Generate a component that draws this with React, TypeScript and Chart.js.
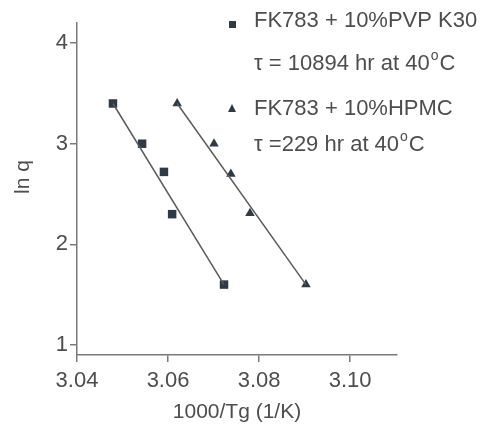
import React, { useEffect, useRef } from "react";
import { Chart, registerables } from "chart.js";

Chart.register(...registerables);

const xTicks = [3.04, 3.06, 3.08, 3.1];
const yTicks = [1, 2, 3, 4];
const pvpX = [3.0479, 3.0543, 3.0591, 3.0609, 3.0723];
const pvpY = [3.4, 3.0, 2.72, 2.3, 1.6];
const hpmcX = [3.062, 3.0701, 3.0738, 3.078, 3.0903];
const hpmcY = [3.4, 3.0, 2.7, 2.31, 1.6];
const pvpFitX = [3.0479, 3.0723];
const pvpFitY = [3.4, 1.6];
const hpmcFitX = [3.062, 3.0903];
const hpmcFitY = [3.4, 1.6];
const legendLines = [
  ["FK783 + 10%PVP K30", "τ = 10894 hr at 40", "C"],
  ["FK783 + 10%HPMC", "τ =229 hr at 40", "C"],
];
const xTitle = "1000/Tg (1/K)";
const yTitle = "ln q";

const FONT = "'Liberation Sans', Arial, sans-serif";
const MARK = "#2e3a46";
const TEXT = "#4d4d4d";
const AXIS = "#7a7a7a";

const toPts = (xs: number[], ys: number[]) => xs.map((x, i) => ({ x, y: ys[i] }));

const legendPlugin = {
  id: "customLegend",
  afterDraw(chart: any) {
    const ctx = chart.ctx;
    ctx.save();
    ctx.fillStyle = MARK;
    ctx.fillRect(229, 21, 7, 7);
    ctx.beginPath();
    ctx.moveTo(232, 104);
    ctx.lineTo(236, 112);
    ctx.lineTo(228, 112);
    ctx.closePath();
    ctx.fill();
    ctx.fillStyle = TEXT;
    ctx.textBaseline = "middle";
    ctx.textAlign = "left";
    const rows = [
      { y: 21, t: legendLines[0][0], sup: false },
      { y: 64, t: legendLines[0][1], sup: true, c: legendLines[0][2] },
      { y: 109, t: legendLines[1][0], sup: false },
      { y: 145, t: legendLines[1][1], sup: true, c: legendLines[1][2] },
    ];
    rows.forEach((r: any) => {
      ctx.font = `22px ${FONT}`;
      ctx.fillText(r.t, 254, r.y);
      if (r.sup) {
        const w = ctx.measureText(r.t).width;
        ctx.font = `14px ${FONT}`;
        ctx.fillText("o", 254 + w + 1, r.y - 8);
        const ow = ctx.measureText("o").width;
        ctx.font = `22px ${FONT}`;
        ctx.fillText(r.c, 254 + w + ow + 2, r.y);
      }
    });
    // y axis title
    ctx.save();
    ctx.translate(23, 177);
    ctx.rotate(-Math.PI / 2);
    ctx.textAlign = "center";
    ctx.font = `21px ${FONT}`;
    ctx.fillText(yTitle, 0, 0);
    ctx.restore();
    ctx.restore();
  },
};

export default function App() {
  const ref = useRef<HTMLCanvasElement>(null);
  useEffect(() => {
    document.body.style.margin = "0";
    const chart = new Chart(ref.current as HTMLCanvasElement, {
      type: "scatter",
      data: {
        datasets: [
          {
            data: toPts(pvpFitX, pvpFitY),
            showLine: true,
            borderColor: "#5a5a5a",
            borderWidth: 1.5,
            pointRadius: 0,
          },
          {
            data: toPts(hpmcFitX, hpmcFitY),
            showLine: true,
            borderColor: "#5a5a5a",
            borderWidth: 1.5,
            pointRadius: 0,
          },
          {
            data: toPts(pvpX, pvpY),
            pointStyle: "rect",
            pointRadius: 6,
            backgroundColor: MARK,
            borderColor: MARK,
            borderWidth: 0,
          },
          {
            data: toPts(hpmcX, hpmcY),
            pointStyle: "triangle",
            pointRadius: 5.5,
            backgroundColor: MARK,
            borderColor: MARK,
            borderWidth: 0,
          },
        ],
      },
      options: {
        animation: false,
        responsive: false,
        events: [],
        layout: { padding: { top: 23, right: 87, left: 0, bottom: 0 } },
        plugins: { legend: { display: false }, tooltip: { enabled: false } },
        scales: {
          x: {
            type: "linear",
            min: 3.04,
            max: 3.1103,
            afterBuildTicks: (s: any) => {
              s.ticks = xTicks.map((v) => ({ value: v }));
            },
            afterFit: (s: any) => {
              s.height = 72;
            },
            ticks: {
              callback: (v: any) => Number(v).toFixed(2),
              font: { family: FONT, size: 22 },
              color: TEXT,
              padding: 6,
              maxRotation: 0,
            },
            grid: { drawOnChartArea: false, tickLength: 7, color: AXIS, lineWidth: 1.5 },
            border: { color: AXIS, width: 1.5 },
            title: {
              display: true,
              text: xTitle,
              font: { family: FONT, size: 21 },
              color: TEXT,
              padding: { top: 2, bottom: 2 },
            },
          },
          y: {
            type: "linear",
            min: 0.9,
            max: 4.2,
            afterBuildTicks: (s: any) => {
              s.ticks = yTicks.map((v) => ({ value: v }));
            },
            afterFit: (s: any) => {
              s.width = 77;
            },
            ticks: {
              font: { family: FONT, size: 22 },
              color: TEXT,
              padding: 2,
            },
            grid: { drawOnChartArea: false, tickLength: 7, color: AXIS, lineWidth: 1.5 },
            border: { color: AXIS, width: 1.5 },
            title: { display: false },
          },
        },
      },
      plugins: [legendPlugin],
    } as any);
    return () => chart.destroy();
  }, []);
  return (
    <div style={{ width: 484, height: 427, background: "#fff" }}>
      <canvas ref={ref} width={484} height={427} />
    </div>
  );
}
